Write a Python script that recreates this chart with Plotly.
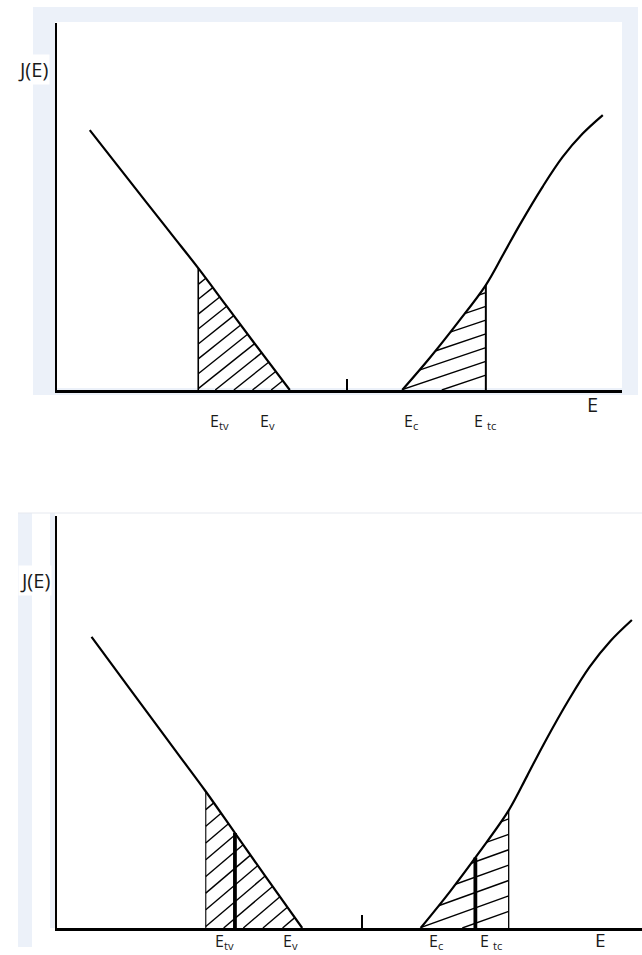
import numpy as np
import plotly.graph_objects as go

# ---- J(E) curve, arbitrary units -------------------------------------------
valence_E = [0.58, 1.10, 1.60, 2.05, 2.50, 3.00, 3.50, 4.12]
valence_J = [7.08, 6.06, 5.08, 4.20, 3.32, 2.29, 1.26, 0.00]
conduction_E = [6.11, 6.60, 7.10, 7.59, 7.90, 8.19, 8.60, 8.95, 9.30, 9.66]
conduction_J = [0.00, 0.88, 1.85, 2.86, 3.70, 4.50, 5.55, 6.35, 6.98, 7.49]

# band-edge energies and the tail limits
E_tv, E_v, E_c, E_tc = 2.50, 4.12, 6.11, 7.59
E_mid = 5.13
inner_E = [2.99, 7.03]          # extra levels marked in the lower panel

level_labels = ["E<sub>tv</sub>", "E<sub>v</sub>", "E<sub>c</sub>", "E <sub>tc</sub>"]
top_label_E = [2.87, 3.73, 6.27, 7.58]
bottom_label_E = [2.82, 3.93, 6.37, 7.29]

W, H = 642, 955
BLUE = "#ECF1F9"
FONT = "Open Sans, Lato, sans-serif"


def px(x):
    return x / W


def py(y):
    return 1 - y / H


def curve_at(E, Es, Js):
    return float(np.interp(E, Es, Js))


def hatch(Es, Js, lo, hi, slope, step, anchor):
    """Parallel hatch segments clipped to the area under the curve on [lo, hi]."""
    e = np.linspace(lo, hi, 3000)
    top = np.interp(e, Es, Js)
    e_first = float(np.min(e - top / slope))
    k0 = int(np.floor((e_first - anchor) / step)) - 1
    k1 = int(np.ceil((hi - anchor) / step)) + 1
    xs, ys = [], []
    for k in range(k0, k1 + 1):
        e0 = anchor + k * step
        j = slope * (e - e0)
        m = (j >= 0) & (j <= top + 1e-9)
        idx = np.where(m)[0]
        if len(idx) < 2:
            continue
        a, b = idx[0], idx[-1]
        if np.hypot(e[b] - e[a], j[b] - j[a]) < 0.08:
            continue
        xs += [e[a], e[b], None]
        ys += [j[a], j[b], None]
    return xs, ys


fig = go.Figure()

panels = [
    dict(xa="x", ya="y", thin=1.6, tc_w=2.0, inner=False),
    dict(xa="x2", ya="y2", thin=1.1, tc_w=1.3, inner=True),
]

for p in panels:
    kw = dict(xaxis=p["xa"], yaxis=p["ya"], mode="lines", hoverinfo="skip",
              showlegend=False)
    # hatching of the two tail regions
    hx, hy = hatch(valence_E, valence_J, E_tv, E_v, 1.23, 0.33, E_v)
    fig.add_trace(go.Scatter(x=hx, y=hy, line=dict(color="black", width=1.4), **kw))
    hx, hy = hatch(conduction_E, conduction_J, E_c, E_tc, 0.52, 0.72, 6.81)
    fig.add_trace(go.Scatter(x=hx, y=hy, line=dict(color="black", width=1.4), **kw))
    # vertical limits at E_tv and E_tc
    fig.add_trace(go.Scatter(x=[E_tv, E_tv], y=[0, curve_at(E_tv, valence_E, valence_J)],
                             line=dict(color="black", width=p["thin"]), **kw))
    fig.add_trace(go.Scatter(x=[E_tc, E_tc], y=[0, curve_at(E_tc, conduction_E, conduction_J)],
                             line=dict(color="black", width=p["tc_w"]), **kw))
    if p["inner"]:
        fig.add_trace(go.Scatter(x=[inner_E[0], inner_E[0]],
                                 y=[0, curve_at(inner_E[0], valence_E, valence_J)],
                                 line=dict(color="black", width=3.8), **kw))
        fig.add_trace(go.Scatter(x=[inner_E[1], inner_E[1]],
                                 y=[0, curve_at(inner_E[1], conduction_E, conduction_J)],
                                 line=dict(color="black", width=3.8), **kw))
    # the J(E) curve
    fig.add_trace(go.Scatter(x=valence_E, y=valence_J, line=dict(color="black", width=2.2,
                             shape="spline", smoothing=1.0), **kw))
    fig.add_trace(go.Scatter(x=conduction_E, y=conduction_J, line=dict(color="black", width=2.2,
                             shape="spline", smoothing=1.0), **kw))

axis_common = dict(showgrid=False, zeroline=False, showticklabels=False, fixedrange=True)

fig.update_layout(
    width=W, height=H,
    margin=dict(l=0, r=0, t=0, b=0),
    paper_bgcolor="white",
    plot_bgcolor="rgba(0,0,0,0)",
    font=dict(family=FONT, color="#1a1a1a"),
    xaxis=dict(domain=[px(57), px(622)], range=[0, 10], showline=True, linewidth=3,
               linecolor="black", tickvals=[E_mid], ticks="inside", ticklen=11,
               tickwidth=2, tickcolor="black", anchor="y", **axis_common),
    yaxis=dict(domain=[py(390), py(23)], range=[0, 10], showline=True, linewidth=2,
               linecolor="black", ticks="", anchor="x", **axis_common),
    xaxis2=dict(domain=[px(57), 1.0], range=[0, 9.83], showline=True, linewidth=3,
                linecolor="black", tickvals=[E_mid], ticks="inside", ticklen=13,
                tickwidth=2, tickcolor="black", anchor="y2", **axis_common),
    yaxis2=dict(domain=[py(928), py(516)], range=[0, 10.02], showline=True, linewidth=2,
                linecolor="black", ticks="", anchor="x2", **axis_common),
)

# page backgrounds behind the two panels
shapes = [
    dict(type="rect", xref="paper", yref="paper", x0=px(33), x1=px(638), y0=py(395), y1=py(7),
         fillcolor=BLUE, line=dict(width=0), layer="below"),
    dict(type="rect", xref="paper", yref="paper", x0=px(55), x1=px(622), y0=py(388), y1=py(22),
         fillcolor="white", line=dict(width=0), layer="below"),
    dict(type="rect", xref="paper", yref="paper", x0=px(18), x1=px(32), y0=py(947), y1=py(513),
         fillcolor=BLUE, line=dict(width=0), layer="below"),
    dict(type="rect", xref="paper", yref="paper", x0=px(50), x1=px(55), y0=py(928), y1=py(513),
         fillcolor=BLUE, line=dict(width=0), layer="below"),
    dict(type="line", xref="paper", yref="paper", x0=px(18), x1=1.0, y0=py(513), y1=py(513),
         line=dict(color="#E6E9EF", width=1), layer="below"),
]
fig.update_layout(shapes=shapes)

ann = []
# y-axis titles
ann.append(dict(text="J(E)", xref="paper", yref="paper", x=px(33), y=py(70), showarrow=False,
                font=dict(size=20), bgcolor="white", xanchor="center", yanchor="middle"))
ann.append(dict(text="J(E)", xref="paper", yref="paper", x=px(35), y=py(580), showarrow=False,
                font=dict(size=20), bgcolor="white", xanchor="center", yanchor="middle"))
# level labels
for t, e in zip(level_labels, top_label_E):
    ann.append(dict(text=t, xref="x", yref="paper", x=e, y=py(421), showarrow=False,
                    font=dict(size=16), xanchor="center", yanchor="middle"))
for t, e in zip(level_labels, bottom_label_E):
    ann.append(dict(text=t, xref="x2", yref="paper", x=e, y=py(941), showarrow=False,
                    font=dict(size=16), xanchor="center", yanchor="middle"))
# x-axis titles
ann.append(dict(text="E", xref="x", yref="paper", x=9.47, y=py(405), showarrow=False,
                font=dict(size=20), xanchor="center", yanchor="middle"))
ann.append(dict(text="E", xref="x2", yref="paper", x=9.13, y=py(954), showarrow=False,
                font=dict(size=19), xanchor="center", yanchor="bottom", borderpad=0))
fig.update_layout(annotations=ann)

fig.write_html("out.html")
